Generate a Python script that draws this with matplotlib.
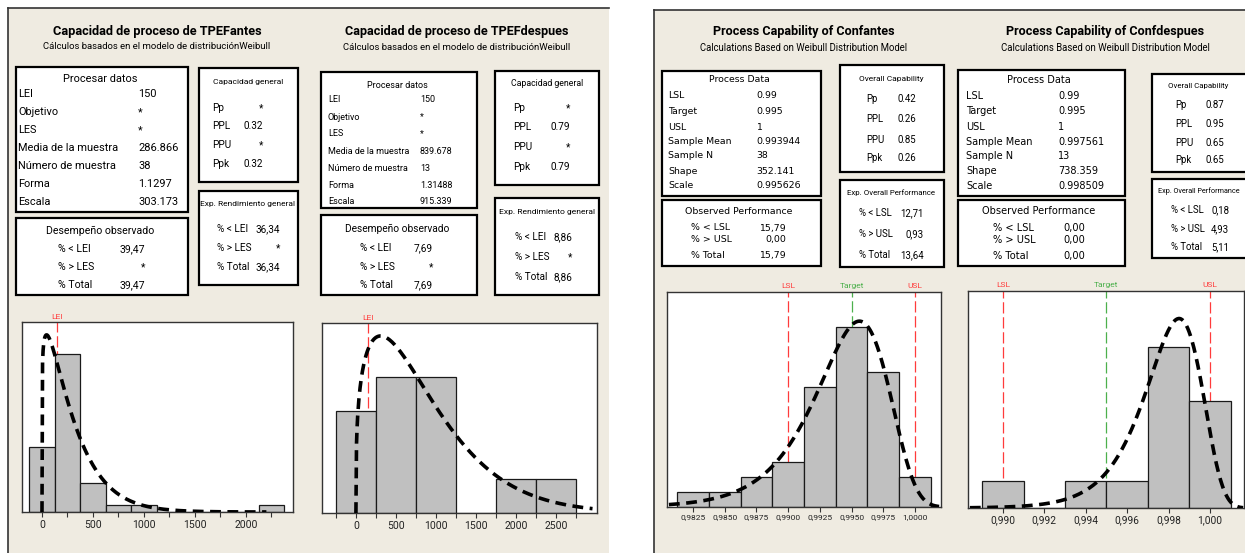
import numpy as np
import matplotlib
matplotlib.use("Agg")
import matplotlib.pyplot as plt
import matplotlib.transforms as mtransforms
from matplotlib import font_manager
from matplotlib.patches import Rectangle
from matplotlib.lines import Line2D

W, H = 1245, 553

# ---------------- data ----------------
# TPEF antes (left report, first histogram)
antes_centers = [0, 250, 500, 750, 1000, 1250, 1500, 1750, 2000, 2250]
antes_counts = [9, 22, 4, 1, 1, 0, 0, 0, 0, 1]
antes_shape, antes_scale, antes_n, antes_binw = 1.1297, 303.173, 38, 250
antes_ticks = [0, 500, 1000, 1500, 2000]
antes_minor = [250, 750, 1250, 1750, 2250]

# TPEF despues
despues_centers = [0, 500, 1000, 1500, 2000, 2500]
despues_counts = [3, 4, 4, 0, 1, 1]
despues_shape, despues_scale, despues_n, despues_binw = 1.31488, 915.339, 13, 500
despues_ticks = [0, 500, 1000, 1500, 2000, 2500]
despues_minor = [-250, 250, 750, 1250, 1750, 2250, 2750]
lei = 150

# Conf antes
confa_centers = [0.9825, 0.9850, 0.9875, 0.9900, 0.9925, 0.9950, 0.9975, 1.0000]
confa_counts = [1, 1, 2, 3, 8, 12, 9, 2]
confa_shape, confa_scale, confa_n, confa_binw = 352.141, 0.995626, 38, 0.0025
confa_ticks = [0.9825, 0.9850, 0.9875, 0.9900, 0.9925, 0.9950, 0.9975, 1.0000]
confa_ticklabels = ['0,9825', '0,9850', '0,9875', '0,9900', '0,9925', '0,9950', '0,9975', '1,0000']

# Conf despues
confd_centers = [0.990, 0.992, 0.994, 0.996, 0.998, 1.000]
confd_counts = [1, 0, 1, 1, 6, 4]
confd_shape, confd_scale, confd_n, confd_binw = 738.359, 0.998509, 13, 0.002
confd_ticks = [0.990, 0.992, 0.994, 0.996, 0.998, 1.000]
confd_ticklabels = ['0,990', '0,992', '0,994', '0,996', '0,998', '1,000']
lsl, target, usl = 0.99, 0.995, 1.0

# report tables
antes_proc_labels = ['LEI', 'Objetivo', 'LES', 'Media de la muestra', 'Número de muestra', 'Forma', 'Escala']
antes_proc_values = ['150', '*', '*', '286.866', '38', '1.1297', '303.173']
despues_proc_values = ['150', '*', '*', '839.678', '13', '1.31488', '915.339']
obs_labels_es = ['% < LEI', '% > LES', '% Total']
antes_obs_values = ['39,47', '*', '39,47']
despues_obs_values = ['7,69', '*', '7,69']
cap_labels = ['Pp', 'PPL', 'PPU', 'Ppk']
antes_cap_values = ['*', '0.32', '*', '0.32']
despues_cap_values = ['*', '0.79', '*', '0.79']
exp_labels_es = ['% < LEI', '% > LES', '% Total']
antes_exp_values = ['36,34', '*', '36,34']
despues_exp_values = ['8,86', '*', '8,86']

proc_labels_en = ['LSL', 'Target', 'USL', 'Sample Mean', 'Sample N', 'Shape', 'Scale']
confa_proc_values = ['0.99', '0.995', '1', '0.993944', '38', '352.141', '0.995626']
confd_proc_values = ['0.99', '0.995', '1', '0.997561', '13', '738.359', '0.998509']
obs_labels_en = ['% < LSL', '% > USL', '% Total']
confa_obs_values = ['15,79', '0,00', '15,79']
confd_obs_values = ['0,00', '0,00', '0,00']
confa_cap_values = ['0.42', '0.26', '0.85', '0.26']
confd_cap_values = ['0.87', '0.95', '0.65', '0.65']
exp_labels_en = ['% < LSL', '% > USL', '% Total']
confa_exp_values = ['12,71', '0,93', '13,64']
confd_exp_values = ['0,18', '4,93', '5,11']

# ---------------- helpers ----------------
avail = {f.name for f in font_manager.fontManager.ttflist}
WIDE = 'DejaVu Sans'
if 'Liberation Sans Narrow' in avail:
    NARROW = 'Liberation Sans Narrow'
elif 'Roboto' in avail:
    NARROW = 'Roboto'
else:
    NARROW = 'Liberation Sans'
BEIGE = '#EFEBE1'
RED = '#FF3B3B'
GREEN = '#4CB04C'

fig = plt.figure(figsize=(W / 100, H / 100), dpi=100)
fig.patch.set_facecolor('white')
renderer = fig.canvas.get_renderer()


def fx(x):
    return x / W


def fy(y):
    return 1 - y / H


def rect(x0, y0, x1, y1, fc='white', ec='black', lw=1.6, z=1):
    fig.patches.append(Rectangle((fx(x0), fy(y1)), (x1 - x0) / W, (y1 - y0) / H,
                                 transform=fig.transFigure, fc=fc, ec=ec, lw=lw, zorder=z))


def hline(x0, x1, y, color='#333333', lw=1.2):
    fig.lines.append(Line2D([fx(x0), fx(x1)], [fy(y), fy(y)], transform=fig.transFigure,
                            color=color, lw=lw, zorder=-1))


def vline(x, y0, y1, color='#333333', lw=1.2):
    fig.lines.append(Line2D([fx(x), fx(x)], [fy(y0), fy(y1)], transform=fig.transFigure,
                            color=color, lw=lw, zorder=-1))


def put(x, y, s, size=7, ha='left', font=WIDE, **kw):
    return fig.text(fx(x), fy(y), s, fontsize=size, ha=ha, va='center', family=font, **kw)


def size_for(s, width, font, **kw):
    t = fig.text(0, 0, s, fontsize=10, family=font, **kw)
    w = t.get_window_extent(renderer).width
    t.remove()
    return 10 * width / w


def fit(x, y, s, width, font, maxsize=None, **kw):
    size = size_for(s, width, font, **kw)
    if maxsize:
        size = min(size, maxsize)
    return put(x, y, s, size, ha='center', font=font, **kw)


def table(box, header, hx, hy, labels, values, lx, vx, ys, size, font, vha='left', hw=None):
    rect(*box)
    if hw:
        fit(hx, hy, header, hw, font, maxsize=size)
    else:
        put(hx, hy, header, size, ha='center', font=font)
    for lab, val, y in zip(labels, values, ys):
        put(lx, y, lab, size, font=font)
        put(vx, y, val, size, ha=vha, font=font)


def weibull(x, k, lam):
    x = np.asarray(x, dtype=float)
    z = np.clip(x / lam, 0, None)
    return k / lam * z ** (k - 1) * np.exp(-z ** k)


def hist(box, xlim, ylim, centers, counts, binw, k, lam, n, cx, ticks, ticklabels,
         minor, specs, tick_size):
    x0, y0, x1, y1 = box
    ax = fig.add_axes([fx(x0), fy(y1), (x1 - x0) / W, (y1 - y0) / H])
    ax.set_zorder(2)
    ax.set_facecolor('white')
    ax.bar(centers, counts, width=binw, color='#C0C0C0', edgecolor='#1a1a1a', lw=0.9, zorder=2)
    xs = np.linspace(cx[0], cx[1], 400)
    ax.plot(xs, weibull(xs, k, lam) * n * binw, color='black', lw=2.6,
            ls=(0, (3.0, 1.8)), zorder=3)
    trans = mtransforms.blended_transform_factory(ax.transData, ax.transAxes)
    for name, val, col in specs:
        ax.axvline(val, color=col, lw=0.9, ls=(0, (9, 3)), zorder=1)
        ax.text(val, 1.012, name, transform=trans, ha='center', va='bottom', color=col,
                fontsize=6, family=NARROW)
    ax.set_xlim(*xlim)
    ax.set_ylim(*ylim)
    ax.set_yticks([])
    ax.set_xticks(ticks)
    ax.set_xticklabels(ticklabels, family=NARROW)
    if minor:
        ax.set_xticks(minor, minor=True)
    ax.tick_params(axis='x', which='both', direction='out', length=3.5, width=0.8,
                   color='#333333', labelsize=tick_size, pad=2, labelcolor='#222222')
    for sp in ax.spines.values():
        sp.set_color('#333333')
        sp.set_linewidth(1.0)
    return ax


# ---------------- panels ----------------
rect(8, 8, 609, H + 5, fc=BEIGE, ec='none', lw=0, z=-5)
rect(654, 10, W + 5, H + 5, fc=BEIGE, ec='none', lw=0, z=-5)
hline(8, 609, 8)
vline(8, 8, H)
hline(654, W, 10)
vline(654, 10, H)

# titles
fit(157, 31, 'Capacidad de proceso de TPEFantes', 210, NARROW, fontweight='bold')
fit(157, 47, 'Cálculos basados en el modelo de distribuciónWeibull', 227, NARROW)
fit(457, 32, 'Capacidad de proceso de TPEFdespues', 225, NARROW, fontweight='bold')
fit(457, 48, 'Cálculos basados en el modelo de distribuciónWeibull', 227, NARROW)
fit(804, 32, 'Process Capability of Confantes', 184, NARROW, fontweight='bold')
fit(804, 48, 'Calculations Based on Weibull Distribution Model', 207, NARROW)
fit(1105, 32, 'Process Capability of Confdespues', 199, NARROW, fontweight='bold')
fit(1105, 48, 'Calculations Based on Weibull Distribution Model', 210, NARROW)

# text sizes matched to the widths of reference labels
s_l1 = size_for('Media de la muestra', 100, NARROW)
s_l2 = size_for('Media de la muestra', 82, NARROW)
s_r1 = size_for('Sample Mean', 64, WIDE)
s_r1o = size_for('Observed Performance', 108, WIDE)
s_r2 = size_for('Sample Mean', 66, WIDE)
s_r2o = size_for('Observed Performance', 113, WIDE)

# left report, antes
table((16, 67, 188, 212), 'Procesar datos', 100, 79, antes_proc_labels, antes_proc_values,
      18, 138, [94, 112, 130, 148, 166, 184, 202], s_l1, NARROW)
table((16, 218, 188, 295), 'Desempeño observado', 100, 231, obs_labels_es, antes_obs_values,
      58, 145, [249, 267, 285], s_l1 * 0.95, NARROW, vha='right')
table((199, 68, 298, 182), 'Capacidad general', 248, 82, cap_labels, antes_cap_values,
      212, 263, [108, 126, 145, 164], 7.2, NARROW, vha='right', hw=70)
table((199, 191, 298, 285), 'Exp. Rendimiento general', 248, 204, exp_labels_es, antes_exp_values,
      217, 280, [229, 248, 267], 7.2, NARROW, vha='right', hw=94)

# left report, despues
table((321, 72, 477, 208), 'Procesar datos', 397, 86, antes_proc_labels, despues_proc_values,
      328, 420, [100, 117, 134, 151, 168, 185, 201], s_l2, NARROW)
table((321, 215, 477, 295), 'Desempeño observado', 397, 229, obs_labels_es, despues_obs_values,
      360, 433, [248, 267, 285], s_l1 * 0.92, NARROW, vha='right')
table((495, 71, 599, 185), 'Capacidad general', 547, 83, cap_labels, despues_cap_values,
      513, 570, [108, 127, 147, 167], 7.2, NARROW, vha='right', hw=72)
table((495, 198, 599, 295), 'Exp. Rendimiento general', 547, 212, exp_labels_es, despues_exp_values,
      515, 572, [237, 257, 277], 7.2, NARROW, vha='right', hw=96)

# right report, antes
table((662, 71, 821, 196), 'Process Data', 739, 80, proc_labels_en, confa_proc_values,
      668, 756, [96, 111, 127, 142, 156, 171, 186], s_r1, WIDE)
table((662, 200, 821, 266), 'Observed Performance', 739, 211, obs_labels_en, confa_obs_values,
      691, 786, [228, 240, 256], s_r1o, WIDE, vha='right')
table((840, 65, 944, 172), 'Overall Capability', 891, 79, cap_labels, confa_cap_values,
      866, 916, [99, 119, 140, 158], 6.9, NARROW, vha='right', hw=64)
table((840, 180, 944, 267), 'Exp. Overall Performance', 891, 193, exp_labels_en, confa_exp_values,
      859, 924, [213, 234, 255], 6.9, NARROW, vha='right', hw=88)

# right report, despues
table((958, 70, 1125, 196), 'Process Data', 1039, 80, proc_labels_en, confd_proc_values,
      966, 1058, [96, 111, 127, 142, 156, 171, 186], s_r2, WIDE)
table((958, 200, 1125, 266), 'Observed Performance', 1039, 211, obs_labels_en, confd_obs_values,
      993, 1085, [228, 240, 256], s_r2o, WIDE, vha='right')
table((1152, 74, 1252, 172), 'Overall Capability', 1198, 86, cap_labels, confd_cap_values,
      1175, 1224, [105, 124, 143, 160], 6.9, NARROW, vha='right', hw=60)
table((1152, 179, 1252, 258), 'Exp. Overall Performance', 1199, 191, exp_labels_en, confd_exp_values,
      1171, 1229, [210, 229, 247], 6.9, NARROW, vha='right', hw=82)

# histograms
hist((22, 322, 293, 512), (-196, 2461), (0, 26.4), antes_centers, antes_counts, antes_binw,
     antes_shape, antes_scale, antes_n, (0, 2200), antes_ticks, [str(t) for t in antes_ticks],
     antes_minor, [('LEI', lei, RED)], 7.5)
hist((322, 323, 597, 513), (-423, 3006), (0, 5.6), despues_centers, despues_counts, despues_binw,
     despues_shape, despues_scale, despues_n, (0, 2950), despues_ticks,
     [str(t) for t in despues_ticks], despues_minor, [('LEI', lei, RED)], 7.5)
hist((667, 292, 941, 507), (0.98045, 1.00205), (0, 14.3), confa_centers, confa_counts, confa_binw,
     confa_shape, confa_scale, confa_n, (0.9806, 1.0019), confa_ticks, confa_ticklabels, None,
     [('LSL', lsl, RED), ('Target', target, GREEN), ('USL', usl, RED)], 6.0)
hist((968, 291, 1244, 508), (0.98831, 1.001645), (0, 8.1), confd_centers, confd_counts, confd_binw,
     confd_shape, confd_scale, confd_n, (0.9884, 1.0016), confd_ticks, confd_ticklabels, None,
     [('LSL', lsl, RED), ('Target', target, GREEN), ('USL', usl, RED)], 7.3)

fig.savefig('out.png', dpi=100, facecolor='white')
